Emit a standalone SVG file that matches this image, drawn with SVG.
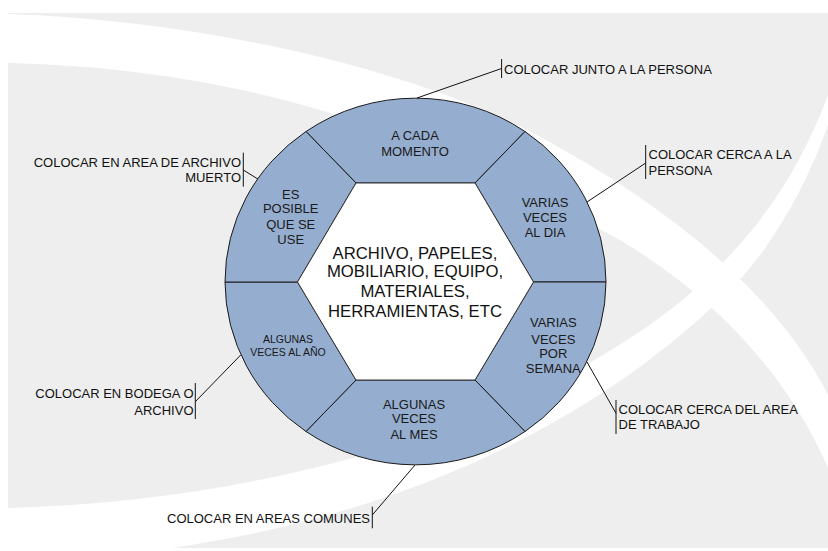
<svg xmlns="http://www.w3.org/2000/svg" width="828" height="551" viewBox="0 0 828 551">
<style>
.seg{fill:#95adcf;stroke:#1a1a1a;stroke-width:1}
.hub{fill:#ffffff;stroke:#333333;stroke-width:1}
.t{font-family:"Liberation Sans",Arial,sans-serif;font-size:13px;fill:#1a1a1a;text-anchor:middle}
.ts{font-family:"Liberation Sans",Arial,sans-serif;font-size:10.5px;fill:#1a1a1a;text-anchor:middle}
.tc{font-family:"Liberation Sans",Arial,sans-serif;font-size:16.7px;fill:#111111;text-anchor:middle}
.lab{font-family:"Liberation Sans",Arial,sans-serif;font-size:13px;fill:#111111}
.end{text-anchor:end}
.con line{stroke:#111111;stroke-width:1}
</style>
<rect x="0" y="0" width="828" height="551" fill="#ffffff"/>
<rect x="8" y="13" width="820" height="535" fill="#eeeeee"/>
<path d="M 8 14 C 200 20 430 70 560 148 C 680 215 780 300 828 395 L 828 468 C 790 380 720 300 620 240 C 480 165 300 70 8 63 Z" fill="#ffffff"/>
<path d="M 8 508 C 300 500 560 410 700 285 C 760 230 800 170 828 95 L 828 125 C 805 190 770 250 730 290 C 600 420 400 520 148 551 L 8 551 Z" fill="#ffffff"/>

<g id="connectors" class="con">
<line x1="417" y1="98" x2="501.6" y2="68.5"/>
<line x1="501.6" y1="59" x2="501.6" y2="78"/>
<line x1="587" y1="202" x2="645.7" y2="163"/>
<line x1="645.7" y1="145" x2="645.7" y2="179"/>
<line x1="258.3" y1="179.3" x2="243.3" y2="170"/>
<line x1="243.3" y1="152.7" x2="243.3" y2="186.7"/>
<line x1="240.7" y1="355" x2="195.3" y2="401.7"/>
<line x1="195.3" y1="383" x2="195.3" y2="419"/>
<line x1="587" y1="362" x2="616" y2="413.3"/>
<line x1="616" y1="400" x2="616" y2="434"/>
<line x1="415" y1="465" x2="372.3" y2="515"/>
<line x1="372.3" y1="506.7" x2="372.3" y2="528.3"/>
</g>

<g id="seg-top">
<path class="seg" d="M 306 131.5 A 190.5 183.5 0 0 1 525 131.5 L 475 183 L 356 183 Z"/>
<text class="t" x="415" y="140.3">A CADA</text>
<text class="t" x="415" y="156">MOMENTO</text>
</g>
<g id="seg-top-right">
<path class="seg" d="M 525 131.5 A 190.5 183.5 0 0 1 606 282 L 533.5 282 L 475 183 Z"/>
<text class="t" x="545" y="207.3">VARIAS</text>
<text class="t" x="545" y="222">VECES</text>
<text class="t" x="545" y="236.6">AL DIA</text>
</g>
<g id="seg-bottom-right">
<path class="seg" d="M 606 282 A 190.5 183.5 0 0 1 525 431.5 L 475 380 L 533.5 282 Z"/>
<text class="t" x="553.3" y="327.3">VARIAS</text>
<text class="t" x="553.3" y="343.6">VECES</text>
<text class="t" x="553.3" y="358">POR</text>
<text class="t" x="553.3" y="373">SEMANA</text>
</g>
<g id="seg-bottom">
<path class="seg" d="M 525 431.5 A 190.5 183.5 0 0 1 306 431.5 L 356 380 L 475 380 Z"/>
<text class="t" x="414" y="408.7">ALGUNAS</text>
<text class="t" x="414" y="423.3">VECES</text>
<text class="t" x="414" y="439">AL MES</text>
</g>
<g id="seg-bottom-left">
<path class="seg" d="M 306 431.5 A 190.5 183.5 0 0 1 225 282 L 297.5 282 L 356 380 Z"/>
<text class="ts" x="288" y="343">ALGUNAS</text>
<text class="ts" x="288" y="356">VECES AL AÑO</text>
</g>
<g id="seg-top-left">
<path class="seg" d="M 225 282 A 190.5 183.5 0 0 1 306 131.5 L 356 183 L 297.5 282 Z"/>
<text class="t" x="290.7" y="198.7">ES</text>
<text class="t" x="290.7" y="213.3">POSIBLE</text>
<text class="t" x="290.7" y="229.3">QUE SE</text>
<text class="t" x="290.7" y="243.7">USE</text>
</g>
<g id="hub">
<path class="hub" d="M 356 183 L 475 183 L 533.5 282 L 475 380 L 356 380 L 297.5 282 Z"/>
<text class="tc" x="415" y="258.7">ARCHIVO, PAPELES,</text>
<text class="tc" x="415" y="277">MOBILIARIO, EQUIPO,</text>
<text class="tc" x="415" y="297">MATERIALES,</text>
<text class="tc" x="415" y="317">HERRAMIENTAS, ETC</text>
</g>

<g id="label-junto">
<text class="lab" x="504" y="73.6">COLOCAR JUNTO A LA PERSONA</text>
</g>
<g id="label-cerca-persona">
<text class="lab" x="648.5" y="158.6">COLOCAR CERCA A LA</text>
<text class="lab" x="648.5" y="174.6">PERSONA</text>
</g>
<g id="label-archivo-muerto">
<text class="lab end" x="241" y="166.6">COLOCAR EN AREA DE ARCHIVO</text>
<text class="lab end" x="241" y="181.6">MUERTO</text>
</g>
<g id="label-bodega">
<text class="lab end" x="193.5" y="398">COLOCAR EN BODEGA O</text>
<text class="lab end" x="193.5" y="414.6">ARCHIVO</text>
</g>
<g id="label-area-trabajo">
<text class="lab" x="618.5" y="414">COLOCAR CERCA DEL AREA</text>
<text class="lab" x="618.5" y="429">DE TRABAJO</text>
</g>
<g id="label-comunes">
<text class="lab end" x="370" y="523">COLOCAR EN AREAS COMUNES</text>
</g>
</svg>
